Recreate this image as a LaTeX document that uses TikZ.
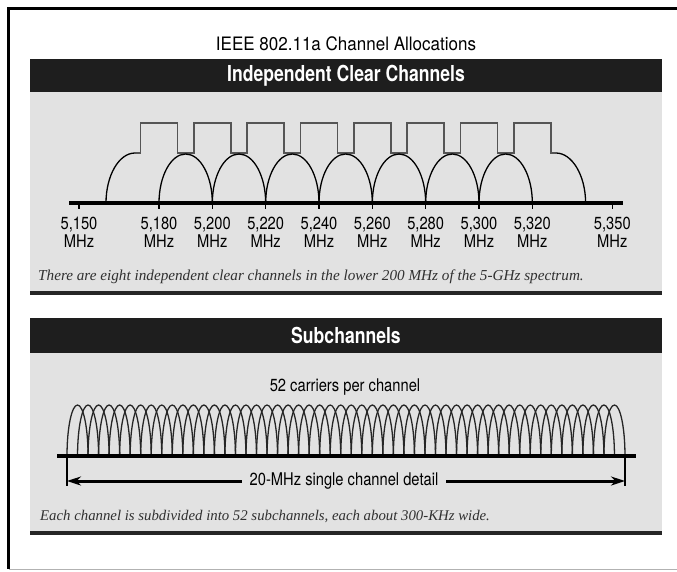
\documentclass[tikz,border=0pt]{standalone}
\usepackage{fontspec}
\setmainfont{TeX Gyre Heros}
\newfontfamily\titlefont[FakeStretch=0.92]{TeX Gyre Heros}
\newfontfamily\headfont[FakeStretch=0.80]{TeX Gyre Heros}
\newfontfamily\labfont[FakeStretch=0.84]{TeX Gyre Heros}
\newfontfamily\capfont{Liberation Serif}
\usetikzlibrary{arrows.meta}
\definecolor{hdr}{HTML}{1E1E1E}
\definecolor{pnl}{HTML}{E2E2E2}
\definecolor{rectline}{HTML}{555555}
\definecolor{captxt}{HTML}{303030}
\begin{document}
\begin{tikzpicture}[x=1pt,y=-1pt,
  headtext/.style={text=white,font=\headfont\bfseries\fontsize{22}{24}\selectfont,inner sep=0pt},
  titletext/.style={font=\titlefont\fontsize{18.5}{20}\selectfont,inner sep=0pt},
  labtext/.style={font=\labfont\fontsize{17.5}{19}\selectfont,inner sep=0pt},
  captext/.style={text=captxt,font=\capfont\itshape\fontsize{15.2}{17}\selectfont,inner sep=0pt,anchor=west},
  maskline/.style={draw=rectline,line width=1.6pt},
  lobe/.style={draw=black,line width=1.3pt},
  subl/.style={draw=black!85,line width=1.3pt},
  axisline/.style={line width=4.5pt},
  dimarrow/.style={line width=3pt,-{Stealth[length=14pt,width=9pt]}}
]
\useasboundingbox (0,0) rectangle (677,571);
\fill[white] (0,0) rectangle (677,571);
% outer frame
\draw[line width=3pt] (677,8) -- (8.5,8) -- (8.5,569);
\draw[line width=1.5pt,black!30] (8.5,569.5) -- (677,569.5);
% title
\node[titletext] (title) at (346,44) {IEEE 802.11a Channel Allocations};

% ---------- panel 1 ----------
\fill[pnl] (30,92) rectangle (662,293);
\fill[hdr] (30,59) rectangle (662,92);
\node[headtext] (head1) at (346,75.5) {Independent Clear Channels};
\draw[line width=4pt,black!85] (30,293) -- (662,293);

% channel mask tops
\draw[maskline] (135,153)
  \foreach \k [evaluate=\k as \c using {159+53.333*\k}] in {0,...,7} {
    -- (\c-18.5,153) -- (\c-18.5,123) -- (\c+18.5,123) -- (\c+18.5,153) }
  -- (556,153);
% outer lobes
\draw[lobe] (106,203) .. controls (106,175.4) and (119,153) .. (135,153);
\draw[lobe] (556,153) .. controls (572,153) and (585.6,175.4) .. (585.6,203);
% inner lobes
\foreach \k [evaluate=\k as \a using {159+53.333*\k},
             evaluate=\k as \m using {159+53.333*\k+26.667},
             evaluate=\k as \b using {159+53.333*(\k+1)}] in {0,...,6} {
  \draw[lobe] (\a,203) .. controls (\a,176) and (\m-14.7,154) .. (\m,154)
              .. controls (\m+14.7,154) and (\b,176) .. (\b,203);
}
% axis
\draw[axisline] (69,203) -- (623,203);
\foreach \f/\t in {5150/{5,150},5180/{5,180},5200/{5,200},5220/{5,220},5240/{5,240},
                   5260/{5,260},5280/{5,280},5300/{5,300},5320/{5,320},5350/{5,350}} {
  \pgfmathsetmacro{\xx}{79+(\f-5150)*2.6667}
  \draw[line width=1.4pt] (\xx,203) -- (\xx,209);
  \node[labtext] (f\f) at (\xx,225) {\t};
  \node[labtext] (m\f) at (\xx,241.5) {MHz};
}
\node[captext] (cap1) at (38,277) {There are eight independent clear channels in the lower 200 MHz of the 5-GHz spectrum.};

% ---------- panel 2 ----------
\fill[pnl] (30,353) rectangle (662,533);
\fill[hdr] (30,318) rectangle (662,353);
\node[headtext] (head2) at (346,335.5) {Subchannels};
\draw[line width=4pt,black!85] (30,533) -- (662,533);
\node[labtext] (carriers) at (345,387) {52 carriers per channel};

\foreach \i [evaluate=\i as \a using {67+10.528*\i},
             evaluate=\i as \m using {67+10.528*\i+10.528},
             evaluate=\i as \b using {67+10.528*\i+21.056}] in {0,...,51} {
  \draw[subl] (\a,456) .. controls (\a,427.8) and (\m-5.8,405) .. (\m,405)
              .. controls (\m+5.8,405) and (\b,427.8) .. (\b,456);
}
\draw[axisline] (57,456) -- (636,456);
\coordinate (vlt) at (67,456);
\coordinate (vlb) at (67,486);
\coordinate (vrt) at (625,456);
\coordinate (vrb) at (625,486);
\draw[line width=2.5pt] (vlt) -- (vlb);
\draw[line width=2.5pt] (vrt) -- (vrb);
\node[labtext,inner xsep=8pt] (detail) at (344,481) {20-MHz single channel detail};
\coordinate (al) at (67,481);
\coordinate (ar) at (625,481);
\draw[dimarrow] (detail.west) -- (al);
\draw[dimarrow] (detail.east) -- (ar);
\node[captext,font=\capfont\itshape\fontsize{14.8}{16}\selectfont] (cap2) at (40,516) {Each channel is subdivided into 52 subchannels, each about 300-KHz wide.};
\end{tikzpicture}
\end{document}
